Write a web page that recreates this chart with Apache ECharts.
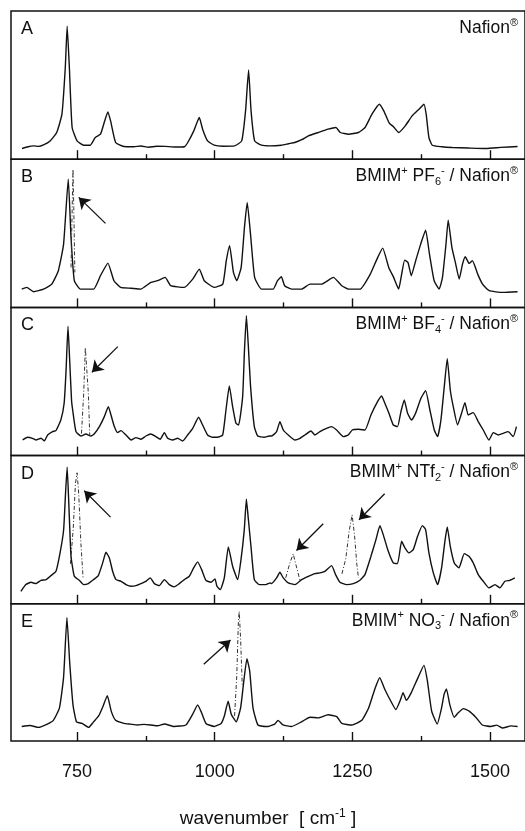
<!DOCTYPE html>
<html>
<head>
<meta charset="utf-8">
<script src="https://cdn.jsdelivr.net/npm/echarts@6/dist/echarts.min.js"></script>
<style>
  html, body { margin: 0; padding: 0; background: #fff; }
  #chart { width: 525px; height: 831px; }
</style>
</head>
<body>
<div id="chart"></div>
<script>
// tick labels and tick positions (wavenumber)
const majorTicks = [750, 1000, 1250, 1500];
const minorTicks = [875, 1125, 1375];

// panel letters and names
const panelLetters = ["A", "B", "C", "D", "E"];
const panelNames = [
  "Nafion{sup|®}",
  "BMIM{sup|+} PF{sub|6}{sup|-} / Nafion{sup|®}",
  "BMIM{sup|+} BF{sub|4}{sup|-} / Nafion{sup|®}",
  "BMIM{sup|+} NTf{sub|2}{sup|-} / Nafion{sup|®}",
  "BMIM{sup|+} NO{sub|3}{sup|-} / Nafion{sup|®}",
];

// spectra [wavenumber, intensity]
const specA = [
  [650, 10.7], [661, 12.5], [671, 13.3], [680, 12.8], [689, 14.3], [701, 18.3], [713, 26.7], [722.5, 45], [728.6, 91.7], [732, 133],
  [736, 91.7], [741, 31.7], [750, 18.3], [762, 14], [774, 14], [783, 21.7], [792.5, 25], [800, 38],
  [806, 47.3], [811, 38], [820, 16.7], [835, 12.7], [853, 12.5], [866, 13.2], [880, 12], [895, 12.9], [910, 12.8], [928, 12.2], [945, 12.5],
  [951, 16.7], [962, 28.3], [972, 41.7], [978, 30], [987, 18.3], [999, 14], [1015, 13], [1036, 13.3], [1049, 18.3],
  [1056, 48.3], [1061.5, 89.3], [1066, 48.3], [1072.5, 18.3], [1085, 14], [1100, 13.3], [1121, 14], [1134, 15.5], [1145.5, 16.7],
  [1158, 19.5], [1170, 23.3], [1188, 26.7], [1206, 30], [1220, 31.7], [1228, 26.7], [1243, 25], [1261, 26.7],
  [1273, 31.7], [1285.5, 45], [1299, 55], [1307, 48.3], [1317, 36], [1325, 32.3], [1334, 26.7],
  [1346, 33.3], [1358.5, 43.3], [1371, 50], [1380, 55], [1384, 45], [1389, 21.7], [1395, 14],
  [1412, 12.5], [1431.5, 11.7], [1460, 11.2], [1492.5, 10.7], [1520, 11.8], [1550, 12.7],
];
const specB = [
  [649.5, 18.3], [658.6, 20], [671, 15.7], [689, 18.3], [704, 23.3], [716, 36.7], [725.5, 63.3], [734, 128.3],
  [739, 70], [745, 26.7], [756, 18.3], [780, 18.3], [792.5, 31.7], [806, 44.3], [817, 26.7], [829, 20],
  [848, 19.2], [865.5, 18.3], [884, 25], [896, 26.7], [910, 30], [920, 21.7], [944.7, 20], [960, 28.3], [972, 38.3],
  [981, 26.7], [999, 20], [1014.6, 23.3], [1021, 46.7], [1027, 61.7], [1034, 35], [1040, 26.7], [1048, 40],
  [1054, 80], [1059, 105], [1065, 73.3], [1072.5, 30], [1085, 18.3], [1106, 18.3], [1114, 26.7],
  [1121, 30.7], [1127, 21.7], [1139.4, 18.3], [1157.7, 18.3], [1173, 23.3], [1194, 23.3], [1215.5, 30],
  [1230.7, 21.7], [1243, 18.3], [1264, 18.3], [1282.5, 33.3], [1294.6, 48.3], [1305, 59.3], [1316, 40],
  [1325, 30], [1334, 18.3], [1339, 31.7], [1345, 47.3], [1351, 45], [1357, 31.7], [1365, 46.7],
  [1374, 63.3], [1383, 77.3], [1390, 53.3], [1398.5, 26.7], [1407.6, 18.3], [1413.6, 30], [1420, 63.3],
  [1424, 87.3], [1430.7, 60], [1437, 45], [1444, 28.3], [1450, 43.3], [1455, 50.7], [1462, 44],
  [1468, 46.7], [1477.6, 33.3], [1486.4, 23.3], [1498.5, 16.7], [1523, 15], [1550, 15.7],
];
const specC = [
  [651, 15.6], [660, 18.3], [669, 17.3], [675, 15.6], [684.5, 17.3], [690.5, 14.6], [696.5, 20.6], [705.5, 24],
  [711.5, 25], [720.5, 35.6], [726.5, 52.3], [730, 85], [733.5, 129.3], [737, 90], [740, 55], [742, 45.6],
  [748, 24], [757, 19.6], [766, 21.6], [775, 19.6], [781, 21.6], [790.5, 29], [799.5, 39], [806.8, 49],
  [811.6, 40.6], [817.7, 29], [823.7, 23], [829.8, 25], [838.8, 20.6], [848, 15.6], [857, 18], [866, 16.3],
  [875, 19.6], [884, 21.6], [893, 19], [901, 16.3], [908.5, 23], [914.5, 17.3], [923.6, 15.6], [932.7, 17.3],
  [941.7, 14.6], [950.8, 20.6], [960, 27.3], [970.8, 38.3], [978, 30.6], [987, 20.6], [996, 18.3], [1005, 18.3],
  [1014.4, 20.6], [1020.4, 45.6], [1026.5, 69.6], [1032.5, 49], [1038.6, 32.3], [1043.4, 30.6], [1050.7, 59],
  [1054, 105], [1057.5, 140], [1061, 110], [1065, 70], [1071.9, 29], [1078, 19.6], [1090, 18.3], [1099, 19.6],
  [1103.3, 19.6], [1112.4, 24], [1118.4, 34], [1124.5, 25.6], [1133.6, 20.6], [1145.7, 15.6], [1154.8, 17.3],
  [1163.8, 20.6], [1174.7, 24.6], [1182, 20.6], [1191, 24], [1203, 27.3], [1212.3, 29], [1221.3, 25.6],
  [1233.5, 19], [1242.5, 20.6], [1249.8, 25.6], [1260.7, 26.3], [1272.8, 25.6], [1283.7, 40.6], [1294, 52.3],
  [1303, 59.6], [1309, 52.3], [1316.4, 42.3], [1324.3, 30.6], [1332, 29], [1338.2, 44], [1344.2, 55.6],
  [1350.3, 42.3], [1357.5, 35.6], [1364.8, 42.3], [1374.5, 57.3], [1383, 65], [1390.8, 45.6], [1398.7, 25.6],
  [1404.8, 19], [1410.8, 35.6], [1416.9, 69], [1422.3, 97], [1427.8, 65.6], [1433.2, 49], [1441, 30.6],
  [1448.3, 42.3], [1454.4, 53], [1460.4, 40.6], [1469.5, 43], [1478.6, 34], [1487.7, 25.6], [1498, 15.6],
  [1506, 23], [1515, 20.6], [1524, 22.3], [1533, 24], [1542, 19], [1548, 29],
];
const specD = [
  [648, 12.5], [657, 19.2], [666.3, 21.5], [675.4, 20.2], [684.5, 23.5], [693.6, 24.2], [702.6, 28.2], [711.7, 32.5],
  [719.6, 52.5], [725.6, 74], [729, 110], [732, 136.7], [735, 100], [739, 47.5], [745, 27.5], [754, 23.5],
  [762, 19.2], [770.4, 20.2], [780, 24.2], [788.6, 28.2], [796.5, 40.9], [802.5, 51.5], [808.6, 45.9],
  [814.6, 32.5], [820.7, 24.2], [829.8, 22.5], [838.8, 19.2], [848, 17.5], [857, 18.2], [866, 20.2], [875, 22.5],
  [883, 25.9], [890.3, 20.2], [899.4, 18.2], [908.5, 24.2], [917.5, 19.2], [926.6, 16.9], [935.7, 20.2],
  [944.8, 24.2], [953.8, 27.5], [961.7, 35.9], [969, 41.9], [976.2, 34.2], [984, 23.5], [993, 21.5],
  [1000.5, 24.9], [1004, 17.5], [1010, 14.2], [1017.4, 25.9], [1024.7, 56.9], [1032.5, 37.5], [1041.6, 24.2],
  [1047.7, 44.2], [1053.7, 74.2], [1057.5, 104.7], [1061, 85], [1065.8, 57.5], [1071.9, 24.2], [1081, 19.2],
  [1093, 19.2], [1101, 20.9], [1103.3, 20.2], [1112.4, 25.9], [1118.4, 31.5], [1124.5, 25.9], [1133.6, 20.9],
  [1145.7, 19.2], [1157.8, 24.2], [1170, 27.5], [1182, 30.2], [1191, 30.9], [1200, 32.5], [1212.3, 38.2],
  [1219.5, 29.2], [1227.4, 21.5], [1239.5, 19.2], [1251.6, 20.2], [1263.7, 23.5], [1272.8, 29.2], [1283.7, 47.5],
  [1292.8, 64.2], [1300, 78.2], [1306, 69.2], [1315.2, 52.5], [1324.3, 40.9], [1332, 40.2], [1339.4, 62.5],
  [1345.4, 55.9], [1352.7, 50.9], [1360.6, 54.2], [1368.4, 67.5], [1377, 78.2], [1383, 74.2], [1389, 50.9],
  [1397, 30.9], [1404.8, 19.2], [1412, 35.9], [1418, 62.5], [1422.3, 76.9], [1427.8, 57.5], [1435, 40.9],
  [1443.5, 35.9], [1453.2, 50.2], [1461.7, 47.5], [1469.5, 40.9], [1478.6, 29.2], [1487.7, 22.5], [1498, 15.9],
  [1509, 19.2], [1518, 15.9], [1527, 22.5], [1536, 23.5], [1545, 25.9],
];
const specE = [
  [649.5, 15.7], [664.7, 16.7], [680, 14.7], [695, 18], [707, 22.3], [718, 35.7], [725.5, 69], [731.6, 133.3],
  [736.5, 85.7], [742.6, 39], [749, 20.7], [759, 19], [771, 14.7], [780, 20.7], [789.5, 27.3], [797, 37.3],
  [805, 49], [812, 32.3], [820, 22.3], [835, 19], [847, 18.2], [860, 17.3], [872, 18], [884, 17.3], [896, 16.4], [909, 18.3], [926, 15.7],
  [947.7, 17.3], [960, 29], [969, 39], [976, 30.7], [984, 19], [999, 15.7], [1011.6, 19], [1017.6, 27.3],
  [1024.4, 43], [1030, 29], [1039, 20.7], [1047, 35.7], [1053, 65.7], [1058.5, 89], [1063.5, 75.7],
  [1069.5, 35.7], [1078.6, 17.3], [1097, 15.7], [1109, 18.3], [1115, 22.3], [1124, 17.3], [1139.4, 15.7],
  [1157.7, 20.7], [1173, 25.7], [1188, 25], [1206, 28.3], [1221.6, 26.3], [1230.7, 19], [1249, 17.3],
  [1267, 22.3], [1279.5, 35.7], [1290.5, 55.7], [1299.6, 68.3], [1309, 55.7], [1319, 44], [1329, 34],
  [1337, 44], [1342, 52.3], [1348, 44], [1357, 52.3], [1369.6, 69], [1380, 81.7], [1386, 65.7], [1394, 32.3],
  [1404, 18.3], [1412, 35.7], [1416.6, 50.7], [1420.8, 56.3], [1427, 39], [1435, 25.7], [1442.6, 30.7],
  [1451.6, 35], [1462, 32.3], [1474, 25.7], [1486, 17.3], [1501.6, 15.7], [1512, 17.2], [1523, 14], [1538, 16.3], [1550, 15.7],
];

// ionic liquid bands (dash-dot traces)
const ilB = [[739, 40], [741.5, 110], [742.6, 138], [744, 100], [746, 35]];
const ilC = [[758, 22], [762, 62], [765, 108], [768, 108], [770.5, 62], [773, 20]];
const ilD1 = [[738, 40], [743, 75], [747, 120], [750, 131], [753, 110], [757, 60], [761, 25]];
const ilD2 = [[1129, 26], [1136, 40], [1142.5, 50], [1148, 38], [1155, 23]];
const ilD3 = [[1231, 30], [1238, 45], [1244, 72], [1249.5, 89], [1254, 68], [1258, 40], [1261, 26]];
const ilE = [[1036, 27], [1040, 70], [1043, 130], [1044.5, 140], [1047, 110], [1050, 60]];

// arrows: [panel, fromX, fromY, toX, toY]
const arrows = [
  [1, 801.6, 84, 753, 110],
  [2, 824, 109, 777, 83.3],
  [3, 810.8, 86.7, 763, 113],
  [3, 1197, 80, 1148.5, 53.3],
  [3, 1308.6, 110, 1262, 84],
  [4, 980, 83, 1028.7, 109],
];

const chart = echarts.init(document.getElementById("chart"));
const font = "Liberation Sans, Arial, Helvetica, sans-serif";
const ink = "#111";
const X_MIN = 630, X_MAX = 1563.5;
const PANEL_TOP = 11, PANEL_H = 148.2, Y_MAX = 148.2;

const grids = [], xAxes = [], yAxes = [], titles = [], series = [];
const rich = {
  sup: { fontSize: 11, lineHeight: 11, verticalAlign: "top", fontFamily: font, color: ink },
  sub: { fontSize: 11, lineHeight: 11, verticalAlign: "bottom", fontFamily: font, color: ink },
};

for (let i = 0; i < 5; i++) {
  const top = PANEL_TOP + i * PANEL_H;
  const last = i === 4;
  grids.push({
    left: 11, right: 0, top: top, height: PANEL_H,
    show: true, borderColor: ink, borderWidth: 1.5, backgroundColor: "transparent",
  });
  xAxes.push({
    type: "value", gridIndex: i, min: X_MIN, max: X_MAX, position: "bottom",
    axisLine: { show: false },
    splitLine: { show: false },
    axisTick: { show: true, inside: true, length: 9, customValues: majorTicks, lineStyle: { color: ink, width: 1.4 } },
    axisLabel: {
      show: last, customValues: majorTicks, margin: 22,
      formatter: v => String(v),
      fontFamily: font, fontSize: 18, color: ink,
    },
    name: last ? "wavenumber  [ cm{sup|-1} ]" : "",
    nameLocation: "middle", nameGap: 67,
    nameTextStyle: {
      fontFamily: font, fontSize: 19, color: ink, lineHeight: 22,
      rich: { sup: { fontSize: 12, lineHeight: 12, verticalAlign: "top", fontFamily: font, color: ink } },
    },
  });
  xAxes.push({
    type: "value", gridIndex: i, min: X_MIN, max: X_MAX, position: "bottom",
    axisLine: { show: false },
    splitLine: { show: false },
    axisTick: { show: true, inside: true, length: 5, customValues: minorTicks, lineStyle: { color: ink, width: 1.4 } },
    axisLabel: { show: false },
  });
  yAxes.push({ type: "value", gridIndex: i, min: 0, max: Y_MAX, show: false });

  titles.push({
    text: panelLetters[i], left: 21, top: top + 9, padding: 0,
    textStyle: { fontFamily: font, fontSize: 18, fontWeight: "normal", color: ink },
  });
  titles.push({
    text: panelNames[i], right: 7, top: top + 6, padding: 0,
    textStyle: { fontFamily: font, fontSize: 17.5, fontWeight: "normal", color: ink, lineHeight: 22, rich: rich },
  });
}

const specs = [specA, specB, specC, specD, specE];
specs.forEach((d, i) => {
  series.push({
    type: "line", xAxisIndex: 2 * i, yAxisIndex: i, data: d,
    symbol: "none", smooth: 0.15, silent: true,
    lineStyle: { color: ink, width: 1.4 },
  });
});

const ilSets = [[1, ilB], [2, ilC], [3, ilD1], [3, ilD2], [3, ilD3], [4, ilE]];
ilSets.forEach(([p, d]) => {
  series.push({
    type: "line", xAxisIndex: 2 * p, yAxisIndex: p, data: d,
    symbol: "none", silent: true,
    lineStyle: { color: "#333", width: 1, type: [4, 2, 1, 2] },
  });
});

// arrows drawn as mark lines in data coordinates
for (let p = 0; p < 5; p++) {
  const a = arrows.filter(r => r[0] === p);
  if (!a.length) continue;
  series.push({
    type: "line", xAxisIndex: 2 * p, yAxisIndex: p, data: [], silent: true,
    markLine: {
      silent: true, animation: false,
      symbol: ["none", "arrow"], symbolSize: 11,
      label: { show: false },
      lineStyle: { color: ink, width: 1.3, type: "solid" },
      data: a.map(r => [{ coord: [r[1], r[2]] }, { coord: [r[3], r[4]] }]),
    },
  });
}

chart.setOption({
  animation: false,
  backgroundColor: "#fff",
  title: titles,
  grid: grids,
  xAxis: xAxes,
  yAxis: yAxes,
  series: series,
});
</script>
</body>
</html>
